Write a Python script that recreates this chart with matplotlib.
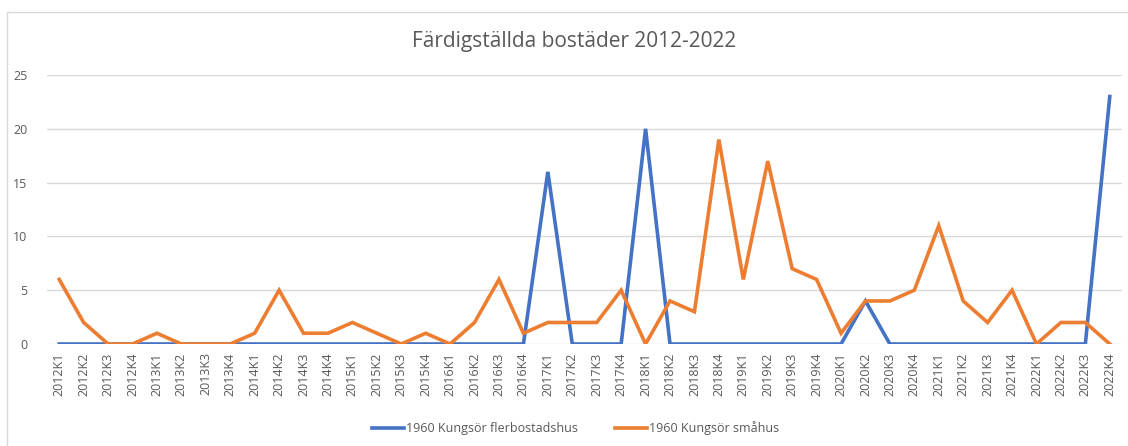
import matplotlib.pyplot as plt
import numpy as np

# Kvartal 2012K1 - 2022K4
years = range(2012, 2023)
quarters = [f'{y}K{q}' for y in years for q in range(1, 5)]

flerbostadshus = [0, 0, 0, 0, 0, 0, 0, 0, 0, 0, 0, 0, 0, 0, 0, 0,
                  0, 0, 0, 0, 16, 0, 0, 0, 20, 0, 0, 0, 0, 0, 0, 0,
                  0, 4, 0, 0, 0, 0, 0, 0, 0, 0, 0, 23]
smahus = [6, 2, 0, 0, 1, 0, 0, 0, 1, 5, 1, 1, 2, 1, 0, 1,
          0, 2, 6, 1, 2, 2, 2, 5, 0, 4, 3, 19, 6, 17, 7, 6,
          1, 4, 4, 5, 11, 4, 2, 5, 0, 2, 2, 0]

plt.rcParams['font.family'] = ['Open Sans', 'DejaVu Sans']
txt = '#595959'

fig = plt.figure(figsize=(11.28, 4.46), dpi=100)
ax = fig.add_axes([47/1128, 1-344/446, 1075/1128, 269/446])

x = np.arange(len(quarters))
ax.plot(x, flerbostadshus, color='#4472C4', lw=2.6, label='1960 Kungsör flerbostadshus', solid_joinstyle='miter')
ax.plot(x, smahus, color='#ED7D31', lw=2.6, label='1960 Kungsör småhus', solid_joinstyle='miter')

ax.set_xlim(-0.5, len(quarters) - 0.5)
ax.set_ylim(0, 25)
ax.set_yticks(range(0, 26, 5))
ax.set_xticks(x)
ax.set_xticklabels(quarters, rotation=90, fontsize=9, color=txt)
ax.tick_params(axis='y', labelsize=9, colors=txt, length=0, pad=14)
ax.tick_params(axis='x', length=0, pad=6)
ax.grid(axis='y', color='#D9D9D9', lw=1)
ax.set_axisbelow(True)
for s in ax.spines.values():
    s.set_visible(False)

fig.text(574/1128, 1-42/446, 'Färdigställda bostäder 2012-2022', ha='center', va='center',
         fontsize=15, color=txt)
fig.legend(loc='center', bbox_to_anchor=(0.51, 1-428/446), ncol=2, frameon=False,
           fontsize=9, handlelength=2.6, columnspacing=3, labelcolor=txt, handletextpad=0.1)

fig.patches.append(plt.Rectangle((7/1128, -0.05), 1.1, 1 - 12/446 + 0.05, transform=fig.transFigure,
                                 fill=False, edgecolor='#D9D9D9', lw=1))

fig.savefig('out.png', dpi=100)
